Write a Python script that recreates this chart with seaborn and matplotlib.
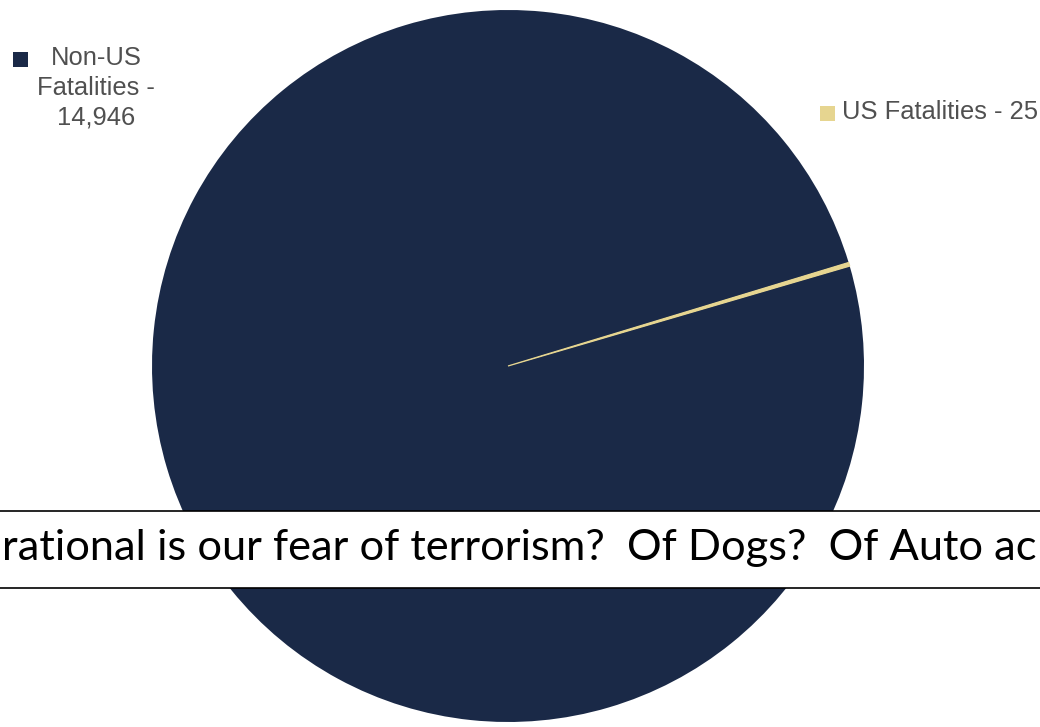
import matplotlib
matplotlib.use("Agg")
import matplotlib.pyplot as plt
import seaborn as sns
from matplotlib.patches import Rectangle
from matplotlib.lines import Line2D

# ---- data ----
categories = ["US Fatalities", "Non-US Fatalities"]
values = [25, 14946]
colors = ["#e6d590", "#1a2947"]
label_texts = ["US Fatalities - 25", "Non-US\nFatalities -\n14,946"]
banner_text = "rational is our fear of terrorism?  Of Dogs?  Of Auto ac"

sns.set_theme(style="white")
plt.rcParams["font.family"] = ["Liberation Sans", "DejaVu Sans"]

W, H = 1040, 727
fig = plt.figure(figsize=(W / 100, H / 100), dpi=100)
fig.patch.set_facecolor("white")


def fx(px):
    return px / W


def fy(py):
    return 1 - py / H


# ---- pie ----
cx, cy, R = 508, 366, 356
ax = fig.add_axes([fx(cx - R), fy(cy + R), 2 * R / W, 2 * R / H])
wedges, _ = ax.pie(values, colors=colors, startangle=16.3, counterclock=True, radius=1,
                   wedgeprops=dict(linewidth=0), frame=False)
wedges[0].set_edgecolor(colors[0])
wedges[0].set_linewidth(0.9)
wedges[0].set_zorder(3)
ax.set_xlim(-1, 1)
ax.set_ylim(-1, 1)
ax.set_zorder(1)

# ---- legend-like labels ----
sq = 15
fig.add_artist(Rectangle((fx(13), fy(52 + sq)), sq / W, sq / H, transform=fig.transFigure,
                         facecolor=colors[1], edgecolor="none", zorder=3))
fig.text(fx(96), fy(88), label_texts[1], ha="center", va="center", multialignment="center",
         fontsize=18.4, linespacing=1.3, color="#505050", zorder=3)

fig.add_artist(Rectangle((fx(820), fy(106 + sq)), sq / W, sq / H, transform=fig.transFigure,
                         facecolor=colors[0], edgecolor="none", zorder=3))
fig.text(fx(842), fy(112), label_texts[0], ha="left", va="center",
         fontsize=18.4, color="#505050", zorder=3)

# ---- banner ----
top, bot = 511, 588
fig.add_artist(Rectangle((0, fy(bot)), 1, (bot - top) / H, transform=fig.transFigure,
                         facecolor="white", edgecolor="none", zorder=5))
for yy in (top, bot):
    fig.add_artist(Line2D([0, 1], [fy(yy), fy(yy)], transform=fig.transFigure,
                          color="black", lw=1.2, zorder=6))
t = fig.text(fx(2), fy(560), banner_text, ha="left", va="baseline",
             fontsize=40, family=["Lato", "DejaVu Sans"], color="black", zorder=7)
renderer = fig.canvas.get_renderer()
w = t.get_window_extent(renderer).width
t.set_fontsize(40 * 1036 / w)

fig.savefig("out.png", dpi=100)
